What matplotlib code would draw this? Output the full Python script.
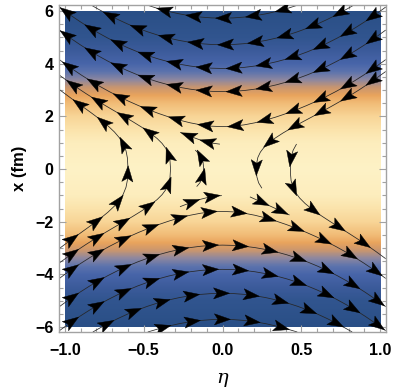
import numpy as np
import matplotlib
matplotlib.use("Agg")
import matplotlib.pyplot as plt
from matplotlib.colors import LinearSegmentedColormap
from matplotlib.patches import Polygon
from matplotlib.ticker import MultipleLocator

# ---------------- data ----------------
eta_extent = [-1.0, 1.0]
x_extent = [-6.0, 6.0]
xlim = [-1.038, 1.036]
ylim = [-6.19, 6.23]

# background colour as a function of |x| (fm)
bg_abs_x = [0.0, 1.0, 1.5, 2.0, 2.5, 2.8, 3.1, 3.4, 3.7, 4.0, 4.5, 5.0, 6.0]
bg_colors = ['#fef2c6', '#fdedbd', '#fbe3ab', '#f8d597', '#f1bc77', '#e9a45d',
             '#c9966f', '#8d87a0', '#5c73ad', '#4865a9', '#3c5b9b', '#31558f', '#2a4f86']

# vector field parameters  (v_eta = -amp*tanh(x|x|/scale^2), v_x = -gain*eta)
flow_amp = 0.46
flow_scale = 1.95
flow_gain = 2.0

# streamline seeds
u_upper_x = [5.73, 4.72, 3.82, 2.94, 1.61]
u_lower_x = [-5.71, -4.72, -3.81, -2.89, -1.61]
vertex_eta = [-0.60, -0.33]
partial_eta = [0.25, 0.47]
partial_x = [-0.73, 0.95]
partial_dir = ['backward', 'forward']
short_eta = [-0.12, -0.14, -0.14, 0.30]
short_x = [0.06, 1.10, -1.15, -1.40]
short_len = [0.15, 0.16, 0.16, 0.19]

xticks = [-1.0, -0.5, 0.0, 0.5, 1.0]
xtick_labels = ['\u22121.0', '\u22120.5', '0.0', '0.5', '1.0']
yticks = [-6, -4, -2, 0, 2, 4, 6]
ytick_labels = ['\u22126', '\u22124', '\u22122', '0', '2', '4', '6']

# ---------------- figure ----------------
fig = plt.figure(figsize=(3.95, 3.92), dpi=100)
ax = fig.add_axes([59 / 395, 1 - 332 / 392, (385.7 - 59) / 395, (332 - 5) / 392])
ax.set_xlim(xlim)
ax.set_ylim(ylim)

# background density
cmap = LinearSegmentedColormap.from_list(
    'bg', list(zip(np.array(bg_abs_x) / bg_abs_x[-1], bg_colors)))
xs_img = np.linspace(x_extent[0], x_extent[1], 600)
Z = np.repeat(np.abs(xs_img)[:, None], 2, axis=1)
ax.imshow(Z, extent=[eta_extent[0], eta_extent[1], x_extent[0], x_extent[1]],
          origin='lower', aspect='auto', cmap=cmap, vmin=0, vmax=bg_abs_x[-1],
          interpolation='bilinear', zorder=0)

# vector field on a grid covering the frame
eg = np.linspace(xlim[0], xlim[1], 141)
xg = np.linspace(ylim[0], ylim[1], 241)
E, X = np.meshgrid(eg, xg)
U = -flow_amp * np.tanh(X * np.abs(X) / flow_scale ** 2)
V = -flow_gain * E

line_kw = dict(color='#262626', linewidth=0.55, minlength=0.001,
               broken_streamlines=False, zorder=2, arrowsize=0.01)

paths = []


def stream(eta0, x0, direction='both', maxlength=4.0):
    before = set(map(id, ax.patches))
    sp = ax.streamplot(eg, xg, U, V, start_points=[[eta0, x0]],
                       integration_direction=direction, maxlength=maxlength,
                       **line_kw)
    for p in list(ax.patches):
        if id(p) not in before:
            p.remove()
    segs = sp.lines.get_segments()
    if len(segs) == 1:
        paths.append(np.asarray(segs[0]))
    elif len(segs) > 1:
        pts = np.vstack([s[0] for s in segs] + [segs[-1][-1]])
        paths.append(pts)


for xv in u_upper_x + u_lower_x:
    stream(0.0, xv)
for ev in vertex_eta:
    stream(ev, 0.0)
for ev, xv, d in zip(partial_eta, partial_x, partial_dir):
    stream(ev, xv, d)
for ev, xv, ml in zip(short_eta, short_x, short_len):
    stream(ev, xv, 'both', ml)

# arrowheads along streamlines, spaced in display pixels
fig.canvas.draw()
to_disp = ax.transData.transform
to_data = ax.transData.inverted().transform
spacing, offset = 30.0, 16.0
head_front, head_back, head_notch, head_half = 8.0, 8.0, 4.5, 5.6
for pts in paths:
    d = to_disp(pts)
    seg = np.hypot(*np.diff(d, axis=0).T)
    s = np.concatenate([[0], np.cumsum(seg)])
    L = s[-1]
    if L < 70:
        marks = [0.3 * L, 0.78 * L]
    else:
        marks = list(np.arange(offset, L - 8, spacing))
    for m in marks:
        p = np.array([np.interp(m, s, d[:, 0]), np.interp(m, s, d[:, 1])])
        a = np.array([np.interp(m - 4, s, d[:, 0]), np.interp(m - 4, s, d[:, 1])])
        b = np.array([np.interp(m + 4, s, d[:, 0]), np.interp(m + 4, s, d[:, 1])])
        tv = b - a
        nrm = np.hypot(*tv)
        if nrm < 1e-9:
            continue
        tv = tv / nrm
        nv = np.array([-tv[1], tv[0]])
        tri = np.array([p + tv * head_front,
                        p - tv * head_back + nv * head_half,
                        p - tv * head_notch,
                        p - tv * head_back - nv * head_half])
        ax.add_patch(Polygon(to_data(tri), closed=True, facecolor='black',
                             edgecolor='black', lw=0.3, zorder=3))

# frame and ticks
frame_col = '#a2a2a2'
for sp_ in ax.spines.values():
    sp_.set_color(frame_col)
    sp_.set_linewidth(1.0)
ax.set_xticks(xticks)
ax.set_xticklabels(xtick_labels, fontweight='bold', fontsize=11.5, family='Liberation Sans')
ax.set_yticks(yticks)
ax.set_yticklabels(ytick_labels, fontweight='bold', fontsize=11.5, family='Liberation Sans')
ax.xaxis.set_minor_locator(MultipleLocator(0.1))
ax.yaxis.set_minor_locator(MultipleLocator(0.5))
ax.tick_params(which='both', direction='in', top=True, right=True, color=frame_col, width=0.8)
ax.tick_params(which='major', length=5)
ax.tick_params(which='minor', length=2.8)
ax.tick_params(axis='x', pad=8)
ax.tick_params(axis='y', pad=4)

ax.set_ylabel('x (fm)', fontweight='bold', fontsize=12, family='Liberation Sans', labelpad=6)
ax.set_xlabel('\u03b7', fontstyle='italic', fontsize=14, family='DejaVu Serif', labelpad=8)

fig.savefig('out.png', dpi=100)
